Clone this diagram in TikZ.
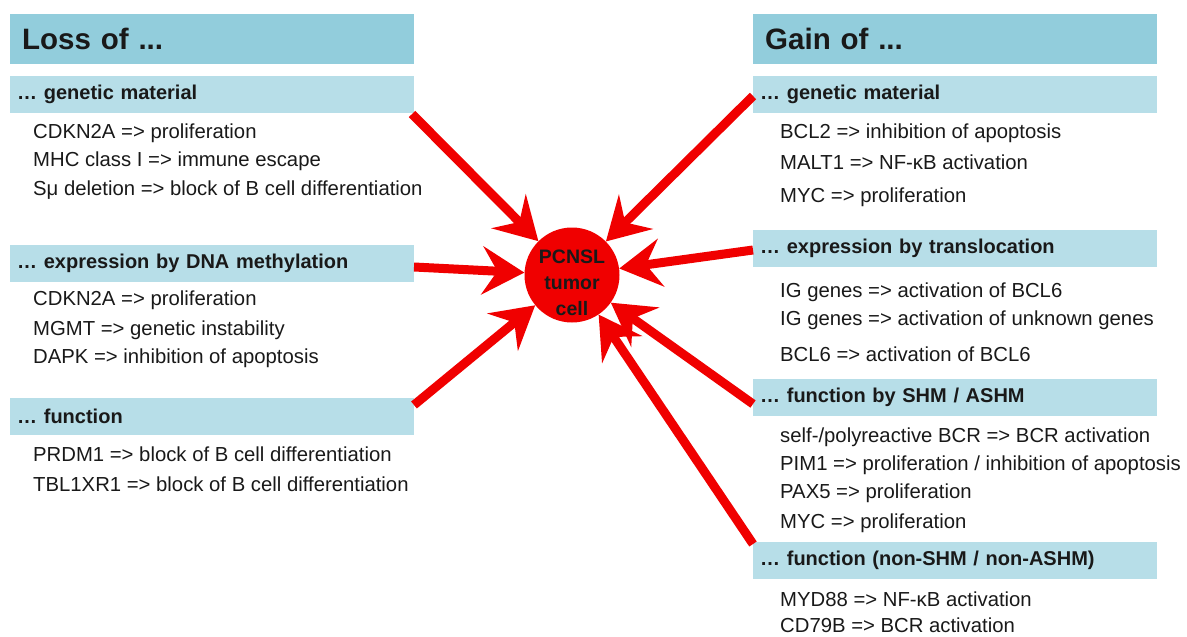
\documentclass[tikz,border=0pt]{standalone}
\usepackage{fontspec}
\setmainfont{Liberation Sans}
\usetikzlibrary{arrows.meta}
\definecolor{hdr}{HTML}{92CDDC}
\definecolor{sub}{HTML}{B7DEE8}
\definecolor{arrred}{HTML}{F00000}
\begin{document}
\frenchspacing
\begin{tikzpicture}[x=1pt,y=-1pt,
  hdrbox/.style={fill=hdr,draw=none,anchor=north west,minimum width=404pt,minimum height=50pt,inner sep=0pt,font=\fontsize{29.5}{32}\selectfont\bfseries,text=black!90,align=left,text width=390pt},
  subbox/.style={fill=sub,draw=none,anchor=north west,minimum width=404pt,minimum height=37pt,inner sep=0pt,font=\fontsize{20}{23}\selectfont\bfseries,text=black!90,align=left,text width=396pt},
  item/.style={anchor=west,inner sep=0pt,font=\fontsize{20.3}{23}\selectfont,text=black!90},
  arr/.style={draw=arrred,line width=9pt,-{Stealth[length=42pt,width=48pt,inset=15pt]}}
]
\useasboundingbox (0,0) rectangle (1187,637);
% left
\node[hdrbox] (lh) at (10,14) {\hspace*{5pt}Loss of ...};
\node[subbox] (lg) at (10,76) {\hspace*{3pt}… genetic material};
\node[item] (l1) at (33,133) {CDKN2A => proliferation};
\node[item] (l2) at (33,161) {MHC class I => immune escape};
\node[item] (l3) at (33,190) {Sμ deletion => block of B cell differentiation};
\node[subbox] (ld) at (10,245) {\hspace*{3pt}… expression by DNA methylation};
\node[item] (l4) at (33,300) {CDKN2A => proliferation};
\node[item] (l5) at (33,330) {MGMT => genetic instability};
\node[item] (l6) at (33,358) {DAPK => inhibition of apoptosis};
\node[subbox] (lf) at (10,398) {\hspace*{3pt}… function};
\node[item] (l7) at (33,454) {PRDM1 => block of B cell differentiation};
\node[item] (l8) at (33,484) {TBL1XR1 => block of B cell differentiation};
% right
\node[hdrbox] (rh) at (753,14) {\hspace*{5pt}Gain of ...};
\node[subbox] (rg) at (753,76) {\hspace*{3pt}… genetic material};
\node[item] (r1) at (780,133) {BCL2 => inhibition of apoptosis};
\node[item] (r2) at (780,162) {MALT1 => NF-κB activation};
\node[item] (r3) at (780,197) {MYC => proliferation};
\node[subbox] (rt) at (753,230) {\hspace*{3pt}… expression by translocation};
\node[item] (r4) at (780,292) {IG genes => activation of BCL6};
\node[item] (r5) at (780,320) {IG genes => activation of unknown genes};
\node[item] (r6) at (780,354) {BCL6 => activation of BCL6};
\node[subbox] (rs) at (753,379) {\hspace*{3pt}… function by SHM / ASHM};
\node[item] (r7) at (780,437) {self-/polyreactive BCR => BCR activation};
\node[item] (r8) at (780,465) {PIM1 => proliferation / inhibition of apoptosis};
\node[item] (r9) at (780,493) {PAX5 => proliferation};
\node[item] (r10) at (780,523) {MYC => proliferation};
\node[subbox] (rn) at (753,542) {\hspace*{3pt}… function (non-SHM / non-ASHM)};
\node[item] (r11) at (780,599) {MYD88 => NF-κB activation};
\node[item] (r12) at (780,625) {CD79B => BCR activation};
% cell
\node[circle,fill=arrred,minimum size=95pt,inner sep=0pt] (cell) at (572,275) {};
\node[align=center,inner sep=0pt,font=\fontsize{19.5}{26}\selectfont\bfseries,text=black!90] (celltext) at (572,283) {PCNSL\\tumor\\cell};
\coordinate (a1) at (412,114);
\coordinate (a2) at (414,267);
\coordinate (a3) at (414,405);
\coordinate (b1) at (753,96);
\coordinate (b2) at (753,250);
\coordinate (b3) at (753,404);
\coordinate (b4) at (753,544);
\draw[arr] (a1) -- (cell);
\draw[arr] (a2) -- (cell);
\draw[arr] (a3) -- (cell);
\draw[arr] (b1) -- (cell);
\draw[arr] (b2) -- (cell);
\draw[arr] (b3) -- (cell);
\draw[arr] (b4) -- (cell);
\end{tikzpicture}
\end{document}
